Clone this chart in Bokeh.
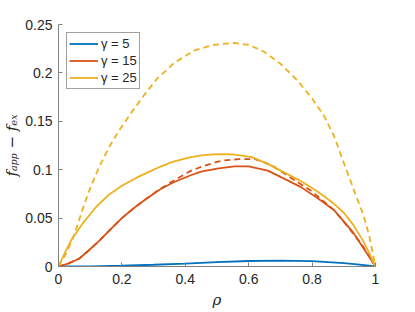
from bokeh.plotting import figure
from bokeh.models import Range1d, FixedTicker, Legend, LegendItem
from bokeh.embed import file_html
from bokeh.resources import INLINE

# ---- data ----
rho_y25_dash = [0, 0.02, 0.04, 0.055, 0.075, 0.1, 0.127, 0.159, 0.19, 0.232, 0.27, 0.311, 0.364,
                0.427, 0.49, 0.553, 0.6, 0.648, 0.7, 0.753, 0.8, 0.837, 0.869, 0.9, 0.932,
                0.963, 0.98, 1.0]
val_y25_dash = [0, 0.011, 0.025, 0.038, 0.058, 0.081, 0.102, 0.123, 0.140, 0.160, 0.177, 0.194,
                0.210, 0.223, 0.229, 0.231, 0.229, 0.222, 0.2095, 0.1925, 0.1735, 0.156, 0.135,
                0.107, 0.079, 0.052, 0.032, 0.0]

rho_y25 = [0, 0.02, 0.04, 0.075, 0.12, 0.16, 0.2, 0.245, 0.28, 0.32, 0.36, 0.41, 0.45, 0.5,
           0.55, 0.61, 0.66, 0.71, 0.76, 0.805, 0.84, 0.87, 0.9, 0.93, 0.96, 0.98, 1.0]
val_y25 = [0, 0.014, 0.027, 0.044, 0.062, 0.0745, 0.0835, 0.0915, 0.097, 0.103, 0.108, 0.1125,
           0.1147, 0.1160, 0.1158, 0.113, 0.106, 0.0975, 0.089, 0.080, 0.072, 0.0645, 0.0555,
           0.043, 0.027, 0.014, 0]

rho_y15 = [0, 0.03, 0.065, 0.095, 0.13, 0.16, 0.2, 0.24, 0.275, 0.32, 0.36, 0.415, 0.45, 0.5,
           0.555, 0.6, 0.66, 0.71, 0.765, 0.82, 0.87, 0.93, 0.96, 0.98, 1.0]
val_y15 = [0, 0.003, 0.008, 0.0165, 0.027, 0.037, 0.050, 0.061, 0.0695, 0.0795, 0.0865, 0.094,
           0.098, 0.101, 0.1035, 0.1035, 0.099, 0.091, 0.082, 0.070, 0.058, 0.035, 0.020, 0.010, 0]

rho_y15_dash = [0, 0.03, 0.065, 0.095, 0.13, 0.16, 0.2, 0.24, 0.275, 0.32, 0.36, 0.415, 0.45,
                0.5, 0.52, 0.57, 0.62, 0.67, 0.71, 0.76, 0.8, 0.87, 0.93, 0.96, 0.98, 1.0]
val_y15_dash = [0, 0.003, 0.008, 0.0165, 0.027, 0.037, 0.050, 0.061, 0.0695, 0.080, 0.088, 0.0985,
                0.103, 0.108, 0.1095, 0.111, 0.111, 0.105, 0.0965, 0.086, 0.0775, 0.058, 0.034,
                0.021, 0.011, 0]

rho_y5 = [0, 0.1, 0.2, 0.3, 0.4, 0.5, 0.6, 0.7, 0.8, 0.9, 0.95, 1.0]
val_y5 = [0, 0.0002, 0.0008, 0.0018, 0.003, 0.0045, 0.0057, 0.006, 0.0055, 0.0035, 0.002, 0]

labels = ["\u03b3 = 5", "\u03b3 = 15", "\u03b3 = 25"]
x_ticks = [0, 0.2, 0.4, 0.6, 0.8, 1]
x_tick_labels = ["0", "0.2", "0.4", "0.6", "0.8", "1"]
y_ticks = [0, 0.05, 0.1, 0.15, 0.2, 0.25]
y_tick_labels = ["0", "0.05", "0.1", "0.15", "0.2", "0.25"]

c_blue, c_red, c_yel = "#0072BD", "#D95319", "#EDB120"

p = figure(width=415, height=312, output_backend="svg", toolbar_location=None,
           x_range=Range1d(0, 1), y_range=Range1d(0, 0.25),
           min_border_left=58, min_border_right=40, min_border_top=24, min_border_bottom=46)
p.outline_line_color = None
p.grid.visible = False
p.background_fill_color = "white"
p.border_fill_color = "white"

lw = 1.8
r5 = p.line(rho_y5, val_y5, color=c_blue, line_width=lw)
p.line(rho_y15_dash, val_y15_dash, color=c_red, line_width=lw, line_dash="6 4")
r15 = p.line(rho_y15, val_y15, color=c_red, line_width=lw)
p.line(rho_y25_dash, val_y25_dash, color=c_yel, line_width=lw, line_dash="6 4")
r25 = p.line(rho_y25, val_y25, color=c_yel, line_width=lw)

for ax, ticks, tl in ((p.xaxis[0], x_ticks, x_tick_labels), (p.yaxis[0], y_ticks, y_tick_labels)):
    ax.ticker = FixedTicker(ticks=ticks)
    ax.major_label_overrides = {t: l for t, l in zip(ticks, tl)}
    ax.major_tick_in = 4
    ax.major_tick_out = 0
    ax.minor_tick_line_color = None
    ax.axis_line_color = "#808080"
    ax.major_tick_line_color = "#808080"
    ax.major_label_text_font = "Liberation Sans"
    ax.major_label_text_font_size = "14px"
    ax.major_label_text_color = "#262626"
    ax.axis_label_text_color = "#262626"
    ax.axis_label_text_font = "DejaVu Serif"
    ax.axis_label_text_font_style = "italic"

p.xaxis.axis_label = "\u03c1"
p.xaxis.axis_label_text_font_size = "15px"
p.xaxis.major_label_standoff = 7
p.xaxis.axis_label_standoff = 4

p.yaxis.axis_label = "f\u2090\u209a\u209a \u2212 f\u2091\u2093"
p.yaxis.axis_label_text_font_size = "15px"
p.yaxis.major_label_standoff = 6
p.yaxis.axis_label_standoff = 1

legend = Legend(items=[LegendItem(label=labels[0], renderers=[r5]),
                       LegendItem(label=labels[1], renderers=[r15]),
                       LegendItem(label=labels[2], renderers=[r25])],
                location="top_left", margin=8, padding=2, spacing=0,
                label_height=17, glyph_height=17, glyph_width=29, label_standoff=3,
                label_text_font="Liberation Sans", label_text_font_size="13px",
                label_text_color="#262626",
                border_line_color="#404040", border_line_width=1,
                background_fill_color="white", background_fill_alpha=1)
p.add_layout(legend, "center")

open("out.html", "w").write(file_html(p, INLINE))
